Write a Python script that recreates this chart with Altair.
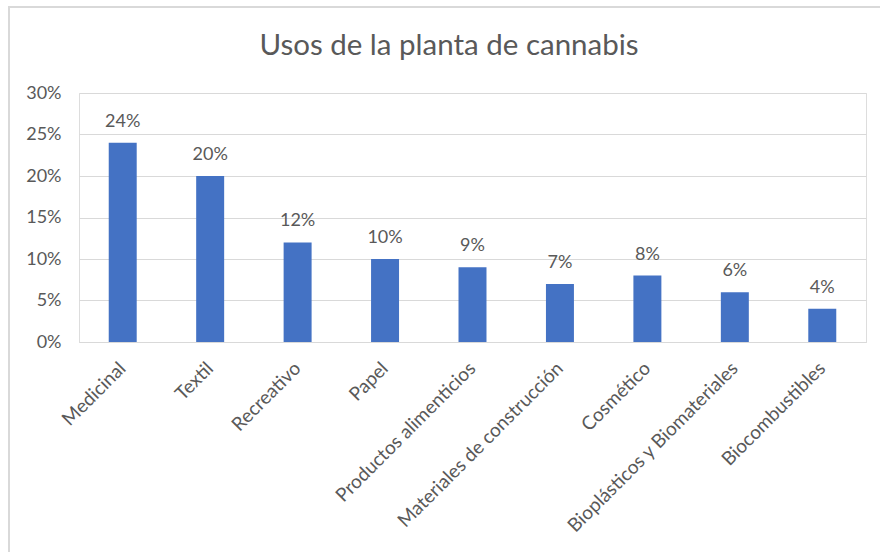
import altair as alt
import pandas as pd

categories = ["Medicinal", "Textil", "Recreativo", "Papel", "Productos alimenticios",
              "Materiales de construcción", "Cosmético", "Bioplásticos y Biomateriales",
              "Biocombustibles"]
values = [0.24, 0.20, 0.12, 0.10, 0.09, 0.07, 0.08, 0.06, 0.04]
y_ticks = [0, 0.05, 0.10, 0.15, 0.20, 0.25, 0.30]
title_text = "Usos de la planta de cannabis"

df = pd.DataFrame({"uso": categories, "valor": values})
title_df = pd.DataFrame({"t": [title_text]})

FONT = "Lato"
GREY = "#595959"
GRID = "#d9d9d9"

x = alt.X("uso:N", sort=categories, title=None,
          scale=alt.Scale(paddingInner=0.68, paddingOuter=0.34),
          axis=alt.Axis(labelAngle=-45, labelAlign="right", labelBaseline="middle",
                        labelFontSize=19, labelColor=GREY, labelFont=FONT,
                        labelPadding=23, ticks=False, domain=True, domainColor=GRID,
                        labelOverlap=False, labelLimit=400))
y = alt.Y("valor:Q", title=None,
          scale=alt.Scale(domain=[0, 0.30], nice=False),
          axis=alt.Axis(values=y_ticks, format=".0%", labelFontSize=18, labelColor=GREY,
                        labelFont=FONT, labelPadding=18, ticks=False, domain=False,
                        grid=True, gridColor=GRID, gridWidth=1))

bars = alt.Chart(df).mark_bar(color="#4472C4").encode(x=x, y=y)
labels = alt.Chart(df).mark_text(baseline="alphabetic", dy=-16, fontSize=18,
                                 color=GREY, font=FONT).encode(
    x=alt.X("uso:N", sort=categories),
    y="valor:Q",
    text=alt.Text("valor:Q", format=".0%"))

border = alt.Chart(title_df).mark_rect(fill=None, stroke=GRID, strokeWidth=2).encode(
    x=alt.value(-70), x2=alt.value(900), y=alt.value(-86), y2=alt.value(600))

title = alt.Chart(title_df).mark_text(baseline="alphabetic", align="center", fontSize=29.5,
                                      color=GREY, font=FONT).encode(
    x=alt.value(370), y=alt.value(-38), text="t:N")

chart = alt.layer(border, bars, labels, title).properties(
    width=787, height=249,
    padding={"left": 79, "top": 93, "right": 14, "bottom": 210},
    autosize=alt.AutoSizeParams(type="none"),
).configure_view(stroke=None).configure(background="white")

chart.save("out.html", embed_options={"renderer": "svg", "actions": False})
